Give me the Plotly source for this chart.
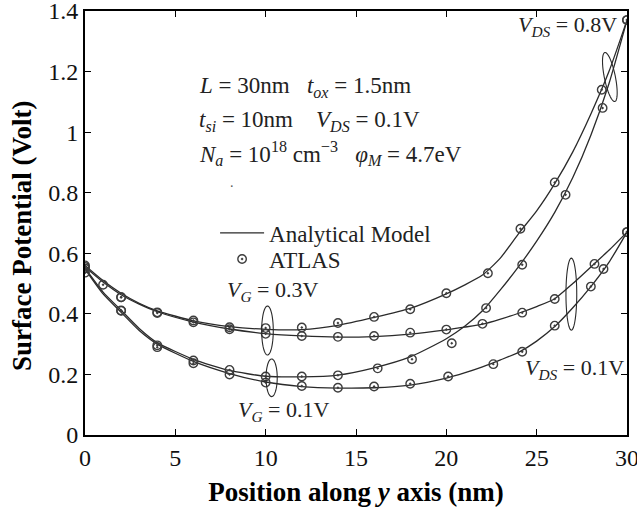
import numpy as np
import plotly.graph_objects as go

# ---------------- data ----------------
x_model = [0, 1, 2, 3, 4, 6, 8, 10, 12, 14, 16, 18, 20, 21, 22, 23, 24, 25, 26, 27, 28, 29, 30]

# Analytical model
vg03_vds08 = [0.560, 0.510, 0.468, 0.435, 0.410, 0.377, 0.358, 0.349, 0.348, 0.362, 0.388, 0.418,
              0.466, 0.495, 0.528, 0.585, 0.665, 0.740, 0.830, 0.935, 1.060, 1.200, 1.370]
vg03_vds01 = [0.555, 0.505, 0.463, 0.432, 0.407, 0.373, 0.350, 0.335, 0.327, 0.323, 0.325, 0.333,
              0.347, 0.356, 0.366, 0.383, 0.402, 0.424, 0.450, 0.500, 0.555, 0.610, 0.670]
vg01_vds08 = [0.552, 0.472, 0.412, 0.352, 0.305, 0.250, 0.213, 0.194, 0.192, 0.198, 0.222, 0.258,
              0.318, 0.358, 0.410, 0.480, 0.556, 0.640, 0.735, 0.850, 0.990, 1.160, 1.370]
vg01_vds01 = [0.548, 0.466, 0.405, 0.345, 0.300, 0.243, 0.203, 0.175, 0.160, 0.155, 0.156, 0.165,
              0.188, 0.205, 0.225, 0.248, 0.273, 0.310, 0.358, 0.420, 0.490, 0.570, 0.670]

# ATLAS simulation
atlas_x_a = [0, 2, 4, 6, 8, 10, 12, 14, 16, 18, 20, 22.3, 24.1, 26.0, 28.6, 30]
atlas_a = [0.560, 0.455, 0.405, 0.378, 0.356, 0.353, 0.355, 0.370, 0.390, 0.415, 0.468, 0.534, 0.681, 0.834, 1.140, 1.370]
atlas_x_b = [0, 1, 2, 4, 6, 8, 10, 12, 14, 16, 18, 20, 22, 24.2, 26.0, 28.2, 30]
atlas_b = [0.555, 0.496, 0.455, 0.403, 0.372, 0.349, 0.334, 0.327, 0.324, 0.327, 0.338, 0.348, 0.367, 0.404, 0.449, 0.565, 0.670]
atlas_x_c = [0, 2, 4, 6, 8, 10, 12, 14, 16.2, 18.1, 20.3, 22.2, 24.2, 26.6, 28.65, 30]
atlas_c = [0.550, 0.411, 0.296, 0.246, 0.215, 0.193, 0.193, 0.197, 0.220, 0.250, 0.303, 0.419, 0.562, 0.793, 1.080, 1.370]
atlas_x_d = [0, 2, 4, 6, 8, 10, 12, 14, 16, 18, 20.1, 22.6, 24.2, 26.0, 28.0, 28.7, 30]
atlas_d = [0.536, 0.410, 0.290, 0.237, 0.200, 0.173, 0.162, 0.156, 0.160, 0.169, 0.193, 0.234, 0.275, 0.361, 0.490, 0.548, 0.670]

x_ticks = [0, 5, 10, 15, 20, 25, 30]
y_ticks = [0, 0.2, 0.4, 0.6, 0.8, 1.0, 1.2, 1.4]
y_tick_text = ["0", "0.2", "0.4", "0.6", "0.8", "1", "1.2", "1.4"]

# ---------------- figure ----------------
W, H = 637, 511
ML, MR, MT, MB = 85, 10, 11, 76
XR = [0, 30]
YR = [0, 1.4]
px_per_x = (W - ML - MR) / (XR[1] - XR[0])
px_per_y = (H - MT - MB) / (YR[1] - YR[0])

SERIF = "Liberation Serif, Times New Roman, serif"
LINE_C = "#2a2a2a"
MARK_C = "#3d3d3d"

fig = go.Figure()

models = [vg03_vds08, vg03_vds01, vg01_vds08, vg01_vds01]
for i, ys in enumerate(models):
    fig.add_trace(go.Scatter(
        x=x_model, y=ys, mode="lines", line=dict(color=LINE_C, width=1.3, shape="spline", smoothing=0.6),
        name="Analytical Model", showlegend=(i == 0), legend="legend", hoverinfo="skip"))

atlas = [(atlas_x_a, atlas_a), (atlas_x_b, atlas_b), (atlas_x_c, atlas_c), (atlas_x_d, atlas_d)]
for i, (xs, ys) in enumerate(atlas):
    fig.add_trace(go.Scatter(
        x=xs, y=ys, mode="markers",
        marker=dict(symbol="circle-open-dot", size=8.5, color=MARK_C, line=dict(width=1.4, color=MARK_C)),
        name="ATLAS", showlegend=(i == 0), legend="legend2", hoverinfo="skip"))


def ellipse_path(cx, cy, a_px, b_px, angle_deg=0.0, n=60):
    t = np.linspace(0, 2 * np.pi, n)
    ang = np.deg2rad(angle_deg)
    u = b_px * np.cos(t)
    v = a_px * np.sin(t)
    ur = u * np.cos(ang) + v * np.sin(ang)
    vr = -u * np.sin(ang) + v * np.cos(ang)
    xs = cx + ur / px_per_x
    ys = cy + vr / px_per_y
    pts = [f"{x:.4f},{y:.4f}" for x, y in zip(xs, ys)]
    return "M " + " L ".join(pts) + " Z"


ellipses = [
    (10.10, 0.345, 24.5, 5.8, 0),
    (10.33, 0.189, 18.8, 5.6, 0),
    (26.92, 0.465, 36.0, 5.4, 0),
    (29.05, 1.182, 25.0, 5.5, -11.5),
]
for cx, cy, a, b, ang in ellipses:
    fig.add_shape(type="path", path=ellipse_path(cx, cy, a, b, ang), xref="x", yref="y",
                  line=dict(color=LINE_C, width=1.1))

ann_font = dict(family=SERIF, size=22, color="#222")
SP = "&nbsp;"
texts = [
    (6.2, 1.150, f"<i>L</i> = 30nm{SP*3}<i>t</i><sub><i>ox</i></sub> = 1.5nm", "left", 23),
    (6.2, 1.038, f"<i>t</i><sub><i>si</i></sub> = 10nm{SP*4}<i>V</i><sub><i>DS</i></sub> = 0.1V", "left", 23),
    (6.2, 0.930, f"<i>N</i><sub><i>a</i></sub> = 10<sup>18</sup> cm<sup>−3</sup>{SP*3}<i>φ</i><sub><i>M</i></sub> = 4.7eV", "left", 23),
    (29.55, 1.350, "<i>V</i><sub><i>DS</i></sub> = 0.8V", "right", 22),
    (7.75, 0.475, "<i>V</i><sub><i>G</i></sub> = 0.3V", "left", 22),
    (8.36, 0.080, "<i>V</i><sub><i>G</i></sub> = 0.1V", "left", 22),
    (24.24, 0.218, "<i>V</i><sub><i>DS</i></sub> = 0.1V", "left", 22),
]
for x, y, t, anc, fs in texts:
    fig.add_annotation(x=x, y=y, xref="x", yref="y", text=t, showarrow=False,
                       xanchor=anc, yanchor="middle", font=dict(family=SERIF, size=fs, color="#222"))

# stray dot under parameter text
fig.add_annotation(x=8.13, y=0.835, xref="x", yref="y", text=".", showarrow=False,
                   font=dict(family=SERIF, size=14, color="#555"))

# y-axis title (placed as in the reference, slightly below plot centre)
fig.add_annotation(x=22, y=H - 236, xref="paper", yref="paper", text="<b>Surface Potential (Volt)</b>",
                   textangle=-90, showarrow=False, xanchor="center", yanchor="middle",
                   font=dict(family=SERIF, size=27, color="black"))
# convert pixel placement to paper coords
fig.layout.annotations[-1].x = (22 - ML) / (W - ML - MR)
fig.layout.annotations[-1].y = (H - MB - 236) / (H - MT - MB)

axis_common = dict(showline=True, linecolor="black", linewidth=2, mirror="ticks",
                   ticks="inside", ticklen=6, tickwidth=1.2, tickcolor="black",
                   showgrid=False, zeroline=False, automargin=False, ticklabeloverflow="allow",
                   tickfont=dict(family=SERIF, size=24, color="#111"))

PH = H - MT - MB
fig.update_layout(
    width=W, height=H,
    margin=dict(l=ML, r=MR, t=MT, b=MB, autoexpand=False),
    paper_bgcolor="white", plot_bgcolor="white",
    xaxis=dict(range=XR, tickvals=x_ticks, ticktext=[str(v) for v in x_ticks],
               title=dict(text="<b>Position along <i>y</i> axis (nm)</b>",
                          font=dict(family=SERIF, size=27, color="black"), standoff=12),
               **axis_common),
    yaxis=dict(range=YR, tickvals=y_ticks, ticktext=y_tick_text, **axis_common),
    legend=dict(x=0.24, y=(H - MB - 233) / PH, xanchor="left", yanchor="middle",
                bgcolor="rgba(0,0,0,0)", font=dict(family=SERIF, size=23, color="#222"),
                tracegroupgap=0, itemwidth=44),
    legend2=dict(x=0.24, y=(H - MB - 259) / PH, xanchor="left", yanchor="middle",
                 bgcolor="rgba(0,0,0,0)", font=dict(family=SERIF, size=23, color="#222"),
                 tracegroupgap=0, itemwidth=44),
    showlegend=True,
)

fig.write_html("out.html")
